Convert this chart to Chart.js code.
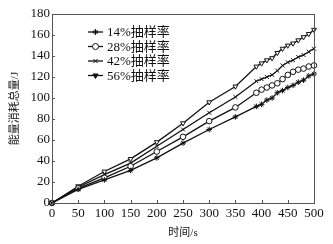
<!DOCTYPE html>
<html>
<head>
<meta charset="utf-8">
<script src="https://cdn.jsdelivr.net/npm/chart.js@4.4.0/dist/chart.umd.min.js"></script>
<style>
    html, body { margin: 0; padding: 0; background: #fff; }
    #wrap { width: 333px; height: 244px; }
</style>
</head>
<body>
<div id="wrap"><canvas id="chart" width="333" height="244"></canvas></div>
<script>
// sampling time (s)
const times = [0, 50, 100, 150, 200, 250, 300, 350, 390, 400, 410, 420, 430, 440, 450, 460, 470, 480, 490, 500];

// total energy consumption (J) for each sampling rate
const rate14 = [0, 13, 22, 31, 43, 57, 70, 82, 92, 94, 98, 100, 105, 107, 110, 112, 115, 117, 121, 123];
const rate28 = [0, 14, 24, 35, 49, 63, 78, 91, 105, 108, 110, 112, 114, 118, 122, 125, 127, 128, 130, 131];
const rate42 = [0, 15, 27, 38, 54, 70, 86, 101, 116, 118, 120, 122, 126, 131, 134, 136, 139, 141, 144, 147];
const rate56 = [0, 16, 30, 42, 58, 76, 96, 111, 130, 133, 136, 138, 143, 147, 150, 152, 155, 158, 161, 165];

const seriesLabels = ['14%抽样率', '28%抽样率', '42%抽样率', '56%抽样率'];
const xTicks = [0, 50, 100, 150, 200, 250, 300, 350, 400, 450, 500];
const yTicks = [0, 20, 40, 60, 80, 100, 120, 140, 160, 180];

const fontFamily = '"Liberation Serif", "Noto Sans CJK SC", serif';

function makeSeries(label, values, style, rotation, fill, legendFill) {
    return {
        label: label,
        data: times.map((t, i) => ({ x: t, y: values[i] })),
        borderColor: '#111',
        borderWidth: 1.3,
        pointStyle: style,
        pointRotation: rotation,
        pointRadius: 2.8,
        pointBorderWidth: 1,
        pointBorderColor: '#111',
        pointBackgroundColor: fill,
        legendFill: legendFill,
        tension: 0,
        clip: false
    };
}

// frame, inside ticks and the legend in the top-left corner of the plot
const framePlugin = {
    id: 'frame',
    afterDraw(chart) {
        const ctx = chart.ctx;
        const area = chart.chartArea;
        const xs = chart.scales.x;
        const ys = chart.scales.y;
        ctx.save();
        ctx.strokeStyle = '#555';
        ctx.lineWidth = 1;
        ctx.strokeRect(area.left + 0.5, area.top + 0.5, area.right - area.left, area.bottom - area.top);

        ctx.beginPath();
        xTicks.forEach(t => {
            const px = Math.round(xs.getPixelForValue(t)) + 0.5;
            ctx.moveTo(px, area.bottom);
            ctx.lineTo(px, area.bottom - 3);
        });
        yTicks.forEach(t => {
            const py = Math.round(ys.getPixelForValue(t)) + 0.5;
            ctx.moveTo(area.left, py);
            ctx.lineTo(area.left + 3, py);
        });
        ctx.stroke();

        // legend
        ctx.font = '13px ' + fontFamily;
        ctx.textBaseline = 'middle';
        chart.data.datasets.forEach((ds, i) => {
            const y = area.top + 18 + i * 14.5;
            const x0 = area.left + 36;
            ctx.strokeStyle = '#111';
            ctx.lineWidth = 1.3;
            ctx.beginPath();
            ctx.moveTo(x0, y);
            ctx.lineTo(x0 + 15, y);
            ctx.stroke();
            ctx.lineWidth = 1;
            ctx.fillStyle = ds.legendFill;
            Chart.helpers.drawPoint(ctx, {
                pointStyle: ds.pointStyle,
                rotation: ds.pointRotation,
                radius: 3,
                borderWidth: 1
            }, x0 + 7.5, y);
            ctx.fillStyle = '#111';
            ctx.fillText(ds.label, x0 + 19, y + 1);
        });
        ctx.restore();
    }
};

new Chart(document.getElementById('chart'), {
    type: 'line',
    data: {
        datasets: [
            makeSeries(seriesLabels[0], rate14, 'star', 0, '#111', '#111'),
            makeSeries(seriesLabels[1], rate28, 'circle', 0, '#fff', '#fff'),
            makeSeries(seriesLabels[2], rate42, 'crossRot', 0, '#fff', '#fff'),
            makeSeries(seriesLabels[3], rate56, 'triangle', 180, '#fff', '#111')
        ]
    },
    options: {
        responsive: false,
        animation: false,
        devicePixelRatio: 1,
        layout: { padding: { left: 0, right: 19, top: 14, bottom: 0 } },
        plugins: {
            legend: { display: false },
            tooltip: { enabled: false }
        },
        scales: {
            x: {
                type: 'linear',
                min: 0,
                max: 500,
                afterFit: function(scale) { scale.height = 41; },
                afterBuildTicks: function(scale) { scale.ticks = xTicks.map(v => ({ value: v })); },
                grid: { display: false, drawTicks: false },
                border: { display: false },
                ticks: {
                    color: '#111',
                    padding: 3,
                    maxRotation: 0,
                    font: { family: fontFamily, size: 13 }
                },
                title: {
                    display: true,
                    text: '时间/s',
                    color: '#111',
                    padding: { top: 2, bottom: 4 },
                    font: { family: fontFamily, size: 11 }
                }
            },
            y: {
                min: 0,
                max: 180,
                afterFit: function(scale) { scale.width = 52; },
                afterBuildTicks: function(scale) { scale.ticks = yTicks.map(v => ({ value: v })); },
                grid: { display: false, drawTicks: false },
                border: { display: false },
                ticks: {
                    color: '#111',
                    padding: 2,
                    font: { family: fontFamily, size: 13 }
                },
                title: {
                    display: true,
                    text: '能量消耗总量/J',
                    color: '#111',
                    padding: { top: 9, bottom: 0 },
                    font: { family: fontFamily, size: 11 }
                }
            }
        }
    },
    plugins: [framePlugin]
});
</script>
</body>
</html>
